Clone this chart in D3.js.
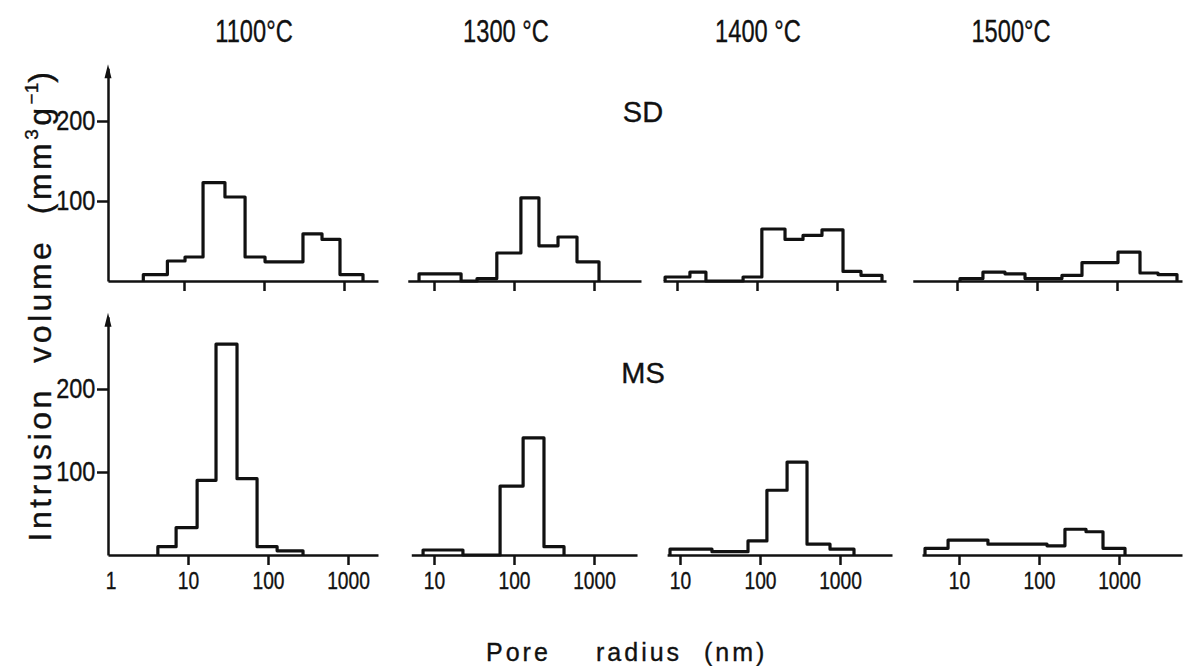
<!DOCTYPE html>
<html><head><meta charset="utf-8">
<script src="https://cdn.jsdelivr.net/npm/d3@7"></script>
<style>
body{margin:0;background:#fff;}
svg text{font-family:"Liberation Sans",Arial,sans-serif;fill:#111;stroke:#111;stroke-width:0.35px;}
</style></head><body>
<svg id="c" width="1189" height="666"></svg>
<script>
// ---------- data ----------
const temperatures = ["1100°C", "1300 °C", "1400 °C", "1500°C"];
const rowLabels = ["SD", "MS"];
const xTickValues = [10, 100, 1000];
const yTickValues = [100, 200];
const xAxisTitle = ["Pore", "radius", "(nm)"];

// SD row (pore radius bin edges in nm, intrusion volume in mm3/g)
const sd1100Edges = [3.1, 6.2, 10.3, 17.3, 32.5, 58, 103, 307, 531, 891, 1728];
const sd1100Values = [8, 25, 30, 123, 105, 30, 24, 59, 52, 8];
const sd1300Edges = [6.5, 21.8, 34.5, 61, 122, 205, 355, 613, 1155];
const sd1300Values = [9, 0, 3, 35, 104, 44, 55, 24];
const sd1400Edges = [7.1, 14.5, 23, 67, 115, 224, 376, 649, 1189, 1995, 3652];
const sd1400Values = [5, 11, 0, 5, 65, 52, 57, 64, 12, 7];
const sd1500Edges = [10.9, 21.1, 39.8, 70.8, 205, 365, 1029, 1939, 3254, 5623];
const sd1500Values = [3, 11, 9, 3, 7, 23, 36, 10, 8];

// MS row
const ms1100Edges = [4.2, 7.1, 13, 22.4, 41, 73, 130, 274];
const ms1100Values = [10, 33, 90, 254, 92, 10, 5];
const ms1300Edges = [7.3, 23, 67, 130, 237, 422];
const ms1300Values = [6, 0, 83, 141, 10];
const ms1400Edges = [7.5, 25.1, 70.8, 122, 218, 387, 750, 1496];
const ms1400Values = [7, 4, 17, 78, 112, 13, 7];
const ms1500Edges = [3.76, 7.3, 23, 126, 211, 387, 631, 1189];
const ms1500Values = [8, 18, 13, 11, 31, 28, 8];

// visible extent of each x axis (nm)
const sdAxisExtents = [[1.12, 2660], [4.7, 3868], [6.7, 4100], [2.8, 6494]];
const msAxisExtents = [[1, 2371], [5.2, 3450], [6.9, 4467], [3.45, 6130]];
// visible extent of the y axes (mm3/g)
const yAxisMax = [266, 287];

// ---------- layout ----------
const layout = {
  xOrigins: [[104, 354, 597, 877], [108, 354, 600, 879]],
  decadePx: 80,
  yZero: [281, 555],
  yPxPerUnit: [0.8, 0.83],
  yAxisX: 108,
  titleX: [254, 506, 758, 1011],
  titleY: 42
};

const rows = [
  {label: rowLabels[0], extents: sdAxisExtents,
   panels: [[sd1100Edges, sd1100Values], [sd1300Edges, sd1300Values], [sd1400Edges, sd1400Values], [sd1500Edges, sd1500Values]]},
  {label: rowLabels[1], extents: msAxisExtents,
   panels: [[ms1100Edges, ms1100Values], [ms1300Edges, ms1300Values], [ms1400Edges, ms1400Values], [ms1500Edges, ms1500Values]]}
];

const svg = d3.select("#c");
const ink = "#111";

rows.forEach((row, r) => {
  const y = d3.scaleLinear().domain([0, 100])
    .range([layout.yZero[r], layout.yZero[r] - 100 * layout.yPxPerUnit[r]]);

  row.panels.forEach(([edges, values], c) => {
    const o = layout.xOrigins[r][c];
    const x = d3.scaleLog().domain([1, 10000]).range([o, o + 4 * layout.decadePx]);
    const ext = row.extents[c];
    const xa = d3.scaleLog().domain(ext).range([x(ext[0]), x(ext[1])]);

    // x axis
    const g = svg.append("g").attr("transform", `translate(0,${y(0)})`)
      .call(d3.axisBottom(xa).tickValues(xTickValues).tickSize(10).tickSizeOuter(0)
        .tickPadding(7).tickFormat(r === 1 ? d3.format("d") : () => ""));
    g.select(".domain").attr("stroke", ink).attr("stroke-width", 2.5);
    g.selectAll(".tick line").attr("stroke", ink).attr("stroke-width", 2.5);
    g.selectAll(".tick text").attr("fill", ink).attr("font-size", 24)
      .attr("font-family", "Liberation Sans, Arial, sans-serif")
      .attr("transform", "scale(0.8,1)");
    if (r === 1 && c === 0) {
      const lx = xa(1) + 3;
      g.append("text").attr("x", lx).attr("y", 17).attr("dy", "0.71em")
        .attr("text-anchor", "middle").attr("font-size", 24).attr("fill", ink)
        .attr("transform", `translate(${lx * 0.2},0) scale(0.8,1)`)
        .text("1");
    }

    // histogram outline
    const pts = [[edges[0], 0]];
    values.forEach((v, i) => { pts.push([edges[i], v]); pts.push([edges[i + 1], v]); });
    pts.push([edges[edges.length - 1], 0]);
    const line = d3.line().x(d => x(d[0])).y(d => y(d[1]));
    svg.append("path").attr("d", line(pts)).attr("fill", "none")
      .attr("stroke", ink).attr("stroke-width", 3.2).attr("stroke-linejoin", "round");
  });

  // y axis (first column only)
  const yTop = y(yAxisMax[r]);
  const ya = d3.scaleLinear().domain([0, yAxisMax[r]]).range([y(0), yTop]);
  const gy = svg.append("g").attr("transform", `translate(${layout.yAxisX},0)`)
    .call(d3.axisLeft(ya).tickValues(yTickValues).tickSize(11).tickSizeOuter(0).tickPadding(2));
  gy.select(".domain").attr("stroke", ink).attr("stroke-width", 2.5);
  gy.selectAll(".tick line").attr("stroke", ink).attr("stroke-width", 2.5);
  gy.selectAll(".tick text").attr("fill", ink).attr("font-size", 28)
    .attr("font-family", "Liberation Sans, Arial, sans-serif")
    .attr("x", -15).attr("transform", "scale(0.84,1)");
  // arrow head
  svg.append("path")
    .attr("d", `M${layout.yAxisX},${yTop - 4} L${layout.yAxisX - 3.5},${yTop + 10} L${layout.yAxisX + 3.5},${yTop + 10} Z`)
    .attr("fill", ink);

  // row label
  svg.append("text").attr("x", 643).attr("y", r === 0 ? 122 : 383)
    .attr("text-anchor", "middle").attr("font-size", 29).text(row.label);
});

// column titles
temperatures.forEach((t, i) => {
  svg.append("text")
    .attr("transform", `translate(${layout.titleX[i]},${layout.titleY}) scale(0.74,1)`)
    .attr("text-anchor", "middle").attr("font-size", 32).text(t);
});

// y axis title
const yt = svg.append("text")
  .attr("transform", "translate(51,305) rotate(-90)")
  .attr("text-anchor", "middle").attr("font-size", 32).attr("letter-spacing", 3.5)
  .attr("word-spacing", 12);
yt.append("tspan").text("Intrusion  volume  (mm");
yt.append("tspan").attr("font-size", 19).attr("dy", -13).text("3");
yt.append("tspan").attr("dy", 13).text("g");
yt.append("tspan").attr("font-size", 19).attr("dy", -13).attr("letter-spacing", 0).text("−1");
yt.append("tspan").attr("dy", 13).text(")");

// x axis title
const xtPos = [486, 596, 704];
xAxisTitle.forEach((w, i) => {
  svg.append("text").attr("x", xtPos[i]).attr("y", 661)
    .attr("font-size", 25).attr("letter-spacing", 3).text(w);
});
</script>
</body></html>
